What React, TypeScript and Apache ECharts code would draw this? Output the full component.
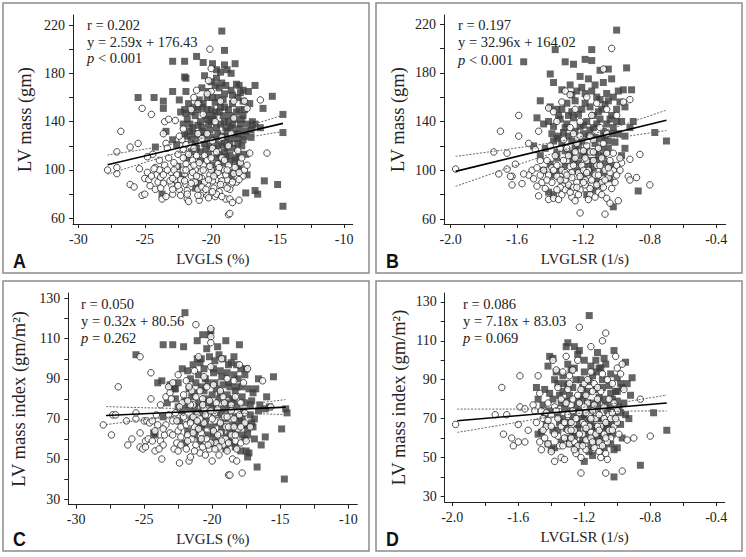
import React, { useEffect, useRef } from "react";
import * as echarts from "echarts";

// ---------- Panel A: LVGLS (%) vs LV mass (gm) ----------
const aSquares: number[][] = [
  [-19.2,215],[-19.0,199],[-22.9,190],[-22.0,190],[-21.1,194],[-20.6,189],[-19.6,183],[-19.0,187],[-18.2,188],[-19.9,188],
  [-20.5,178],[-22.0,177],[-21.9,176],[-18.8,183],[-19.3,181],[-18.5,180],[-19.6,176],[-19.2,172],[-18.1,171],[-17.9,170],
  [-17.6,166],[-17.2,165],[-16.7,170],[-18.5,166],[-19.0,163],[-19.7,170],[-20.0,173],[-19.4,168],
  [-25.5,160],[-24.3,160],[-23.6,157],[-22.9,165],[-22.0,150],[-22.3,148],[-23.4,132],[-23.6,151],[-24.2,119],[-23.7,80],[-22.9,125],[-22.6,121],
  [-15.4,161],[-16.1,151],[-16.3,135],[-14.6,146],[-14.6,131],[-16.5,80],[-17.4,81],[-16.7,83],[-16.0,91],[-15.0,88],[-14.6,70],
  [-17.3,96],[-17.4,113],[-17.0,127],[-17.0,133],[-16.9,140],[-17.5,150],[-17.1,155],[-17.6,157],[-18.0,160],[-16.9,137],[-16.7,138],
  [-18.6,112],[-18.1,110],[-17.9,104],[-18.0,100],[-18.3,98],[-18.5,95],[-19.2,106],[-19.8,98],[-20.9,90],[-21.2,85],[-22.2,96],
  [-22.5,103],[-21.8,110],[-20.2,113],[-19.0,115],[-18.8,118],[-17.7,120],
  [-21.8,142],[-21.6,138],[-21.4,135],[-21.2,145],[-21.0,150],[-20.8,140],[-20.6,132],[-20.4,145],[-20.2,138],[-20.0,150],
  [-19.8,142],[-19.6,135],[-19.4,148],[-19.2,128],[-19.0,140],[-18.8,132],[-18.6,145],[-18.4,137],[-18.2,142],[-18.0,130],
  [-17.8,138],[-17.6,145],[-17.4,132],[-21.5,125],[-21.0,128],[-20.5,122],[-20.0,127],[-19.5,120],[-19.0,123],[-18.5,126],
  [-18.0,122],[-17.5,128],[-21.7,155],[-20.9,158],[-20.3,160],[-19.7,156],[-19.1,158],[-18.4,155],[-17.9,150],[-20.7,152],
  [-19.9,145],[-19.3,138],[-18.7,150],[-22.1,138],[-21.3,130],[-20.1,133],[-19.7,125],[-18.9,135],[-18.3,118],[-17.9,113],
  [-20.4,118],[-21.1,118],[-19.4,113],[-20.8,108],[-18.6,107],[-19.9,104],[-21.5,148],[-20.2,165],[-19.5,160],[-18.9,170],
  [-20.7,168],[-21.9,165],[-22.4,158],
  [-21.9,147],[-21.3,152],[-20.6,155],[-19.9,160],[-19.3,152],[-18.7,140],[-18.1,148],[-17.7,142],[-21.6,132],[-21.0,137],
  [-20.3,142],[-19.7,148],[-19.1,145],[-18.5,135],[-17.9,134],[-17.3,138],[-21.8,128],[-20.7,135],[-20.0,140],[-19.5,130],
  [-18.9,127],[-18.3,130],[-17.6,125],[-21.2,122],[-20.5,128],[-19.8,118],[-19.2,121],[-18.6,122],[-18.0,126],[-20.8,115],
  [-20.1,120],[-19.6,110],[-18.9,111],[-18.2,108],[-21.5,115],[-22.0,130],[-20.3,150],[-19.0,152],[-18.4,162],[-17.8,164]
];
const aCircles: number[][] = [
  [-27.8,100],[-27.1,97],[-27.1,102],[-27.1,115],[-26.8,132],[-26.1,119],[-26.1,88],[-25.8,86],[-25.5,122],[-25.2,151],
  [-25.4,101],[-25.2,79],[-25.0,80],[-25.0,93],[-24.8,98],[-24.6,87],[-24.5,146],[-24.4,113],[-24.2,102],[-24.1,96],
  [-24.0,90],[-24.2,84],[-23.9,100],[-23.8,94],[-23.7,76],[-23.6,89],[-23.5,140],[-23.4,122],[-23.3,118],[-23.2,110],
  [-23.0,98],[-23.0,88],[-22.9,80],[-22.7,92],[-22.6,103],[-22.5,113],[-22.4,84],[-22.3,79],[-22.2,125],[-22.1,134],
  [-22.0,97],[-21.9,88],[-21.8,76],[-21.7,74],[-21.6,102],[-21.5,95],[-21.4,108],[-21.3,118],[-21.2,90],[-21.0,84],
  [-20.9,75],[-20.8,99],[-20.7,93],[-20.6,104],[-20.5,112],[-20.4,80],[-20.3,88],[-20.2,77],[-20.1,96],[-20.0,100],
  [-19.9,118],[-19.8,85],[-19.7,78],[-19.6,92],[-19.5,105],[-19.4,82],[-19.3,95],[-19.2,110],[-19.1,88],[-19.0,100],
  [-18.9,76],[-18.8,92],[-18.7,104],[-18.7,63],[-18.6,64],[-18.6,76],[-18.5,88],[-18.4,73],[-18.3,97],[-18.1,90],
  [-17.9,75],[-17.8,106],[-17.6,95],[-17.5,100],[-17.3,104],[-17.1,114],[-15.8,114],[-16.3,158],
  [-20.1,200],[-20.0,184],[-20.2,174],[-20.0,165],[-20.3,163],[-21.1,166],[-21.3,160],[-21.0,155],[-21.5,150],[-20.6,146],
  [-19.3,157],[-18.3,157],[-17.5,157],[-17.3,151],[-19.7,140],[-18.3,143],[-22.7,141],[-23.2,142],[-22.4,128],[-21.9,121],
  [-21.0,130],[-20.7,126],[-20.3,130],[-19.9,124],[-19.6,115],[-19.2,127],[-18.7,120],[-18.5,130],[-18.0,116],[-17.7,110],
  [-21.7,113],[-22.1,117],[-23.9,108],[-23.6,130],[-24.8,111],[-22.8,106],[-21.9,105],[-21.2,100],[-20.5,90],[-19.5,98],
  [-19.9,91],[-20.9,94],[-21.6,86],[-22.3,92],[-22.8,100],[-23.5,104],[-24.3,101],[-24.7,92],[-23.1,91],[-22.1,100],
  [-21.1,112],[-20.3,108],[-19.0,108],[-18.2,102],[-18.9,96],[-20.6,82],[-21.8,83],[-22.9,84],[-23.4,78],[-20.8,79],
  [-19.6,80],[-18.6,84],[-19.2,91],[-20.1,103],[-21.4,98],[-17.9,98],
  [-22.6,96],[-22.0,91],[-21.5,89],[-21.1,95],[-20.7,86],[-20.2,92],[-19.8,95],[-19.3,88],[-18.8,85],[-18.4,90],
  [-22.9,93],[-23.3,100],[-23.8,85],[-24.5,95],[-21.9,100],[-21.3,104],[-20.6,100],[-20.0,110],[-19.4,102],[-18.8,100],
  [-17.9,92],[-21.8,80],[-21.0,79],[-20.4,84],[-19.9,82],[-19.2,78],[-22.5,87],[-23.6,96],[-22.1,110],[-20.9,106]
];
const aFitX = [-27.8, -14.6];
const aFitY = [104.4, 138.6];
const aBandX = [-27.8, -26, -24, -22, -20.5, -19, -17, -14.6];
const aBandUpper = [112.4, 115.5, 119.1, 123.3, 126.8, 131.0, 137.3, 145.4];
const aBandLower = [96.4, 102.7, 109.5, 115.7, 119.8, 123.4, 127.5, 131.8];

// ---------- Panel B: LVGLSR (1/s) vs LV mass (gm) ----------
const bSquares: number[][] = [
  [-1.00,215],[-1.37,199],[-1.15,199],[-1.56,189],[-1.31,189],[-1.26,187],[-1.19,191],[-1.15,190],[-1.10,182],[-1.05,183],
  [-0.94,184],[-1.40,179],[-1.38,172],[-1.22,177],[-1.17,175],[-1.13,170],[-1.08,172],[-1.03,175],[-0.99,165],[-0.96,166],
  [-0.91,166],[-1.28,170],[-1.33,166],[-1.24,165],[-1.19,163],[-1.12,160],[-1.06,163],[-1.02,160],[-0.98,156],[-0.95,152],
  [-1.46,157],[-1.40,152],[-1.36,150],[-1.30,155],[-1.27,148],[-1.21,150],[-1.16,152],[-1.11,148],[-1.07,154],[-1.03,145],
  [-1.00,150],[-0.97,140],[-1.48,143],[-1.44,138],[-1.41,140],[-1.38,136],[-1.34,142],[-1.30,138],[-1.26,143],[-1.22,136],
  [-1.18,140],[-1.14,135],[-1.10,142],[-1.06,138],[-1.02,135],[-0.99,130],[-0.95,128],[-0.90,140],[-0.92,135],[-0.77,131],
  [-0.70,124],[-1.50,120],[-1.46,112],[-1.43,118],[-1.39,130],[-1.36,126],[-1.33,122],[-1.29,128],[-1.25,118],[-1.21,124],
  [-1.17,128],[-1.13,122],[-1.09,126],[-1.05,118],[-1.01,123],[-0.97,112],[-0.95,118],[-1.40,105],[-1.36,110],[-1.31,104],
  [-1.27,112],[-1.23,106],[-1.19,114],[-1.15,108],[-1.11,112],[-1.07,106],[-1.03,104],[-1.44,100],[-1.38,96],[-1.33,92],
  [-1.29,96],[-1.24,100],[-1.20,94],[-1.16,98],[-1.12,92],[-1.08,98],[-1.04,93],[-1.41,82],[-1.38,80],[-1.29,86],
  [-1.18,80],[-1.14,84],[-0.87,83],[-1.02,70],[-1.10,88],[-1.35,145],[-1.25,157],[-1.15,165],[-1.05,157],[-1.32,131],
  [-1.20,130],[-1.08,132],[-1.13,115],[-1.28,114],[-1.36,115],
  [-1.33,150],[-1.29,145],[-1.23,146],[-1.19,155],[-1.14,145],[-1.09,150],[-1.04,142],[-1.31,135],[-1.25,132],[-1.20,137],
  [-1.16,133],[-1.12,138],[-1.07,128],[-1.03,130],[-1.35,128],[-1.27,124],[-1.23,120],[-1.18,116],[-1.13,127],[-1.09,118],
  [-1.05,124],[-1.31,116],[-1.26,108],[-1.21,112],[-1.17,104],[-1.12,108],[-1.08,112],[-1.34,100],[-1.22,98],[-1.14,102],
  [-1.27,162],[-1.21,168],[-1.10,158],[-1.38,124],[-1.00,140]
];
const bCircles: number[][] = [
  [-1.03,200],[-1.08,183],[-1.97,101],[-1.74,115],[-1.70,132],[-1.59,145],[-1.59,128],[-1.66,114],[-1.71,97],[-1.63,95],
  [-1.63,88],[-1.57,89],[-1.61,105],[-1.53,122],[-1.47,132],[-1.49,117],[-1.46,108],[-1.47,79],[-1.51,100],[-1.53,96],
  [-1.56,97],[-1.66,101],[-1.64,95],[-1.48,87],[-1.45,90],[-1.43,85],[-1.41,76],[-1.38,77],[-1.35,76],[-1.33,80],
  [-1.31,84],[-1.29,88],[-1.27,78],[-1.25,75],[-1.22,65],[-1.07,64],[-1.06,77],[-1.04,73],[-0.99,75],[-0.92,109],
  [-0.86,113],[-0.88,94],[-0.80,88],[-0.97,106],[-0.93,95],[-0.92,92],[-0.92,158],[-0.96,156],[-1.41,151],[-1.38,148],
  [-1.36,140],[-1.31,165],[-1.28,162],[-1.33,156],[-1.26,130],[-1.22,128],[-1.18,120],[-1.16,115],[-1.14,125],[-1.11,118],
  [-1.09,110],[-1.06,114],[-1.04,108],[-1.02,100],[-1.00,104],[-1.40,120],[-1.37,112],[-1.34,118],[-1.30,108],[-1.28,103],
  [-1.25,110],[-1.23,98],[-1.21,104],[-1.19,92],[-1.17,100],[-1.15,88],[-1.13,96],[-1.11,82],[-1.09,90],[-1.07,100],
  [-1.05,94],[-1.03,85],[-1.42,108],[-1.39,102],[-1.36,95],[-1.33,100],[-1.31,92],[-1.27,98],[-1.24,90],[-1.22,84],
  [-1.20,100],[-1.18,108],[-1.16,80],[-1.13,78],[-1.27,94],[-1.34,86],[-1.39,90],[-1.44,100],[-1.50,93],[-1.48,102],
  [-1.20,116],[-1.24,122],[-1.30,118],[-1.12,104],[-1.08,122],[-1.02,114],[-1.00,96],[-0.98,110],[-1.06,130],[-1.10,135],
  [-1.16,128],[-1.22,140],[-1.28,135],[-1.18,160],[-1.12,155],[-1.06,150],[-1.00,145],[-1.15,145],[-1.25,150],[-1.32,125],
  [-1.36,104],[-1.41,96],[-1.14,108],[-1.19,88],[-1.26,86],[-1.09,80],[-1.31,98],
  [-1.26,104],[-1.22,95],[-1.18,98],[-1.15,92],[-1.11,96],[-1.07,92],[-1.04,98],[-1.30,96],[-1.34,92],[-1.38,100],
  [-1.24,86],[-1.20,90],[-1.16,85],[-1.12,88],[-1.08,86],[-1.36,84],[-1.28,82],[-1.32,108],[-1.25,115],[-1.19,110],
  [-1.14,115],[-1.10,104],[-1.05,102],[-1.42,92],[-1.46,96],[-1.23,80],[-1.17,76],[-1.01,90],[-0.98,100],[-1.29,112]
];
const bFitX = [-1.97, -0.70];
const bFitY = [99.1, 141.0];
const bBandX = [-1.97, -1.8, -1.6, -1.4, -1.2, -1.0, -0.85, -0.70];
const bBandUpper = [111.4, 114.5, 118.3, 122.5, 128.0, 135.7, 142.4, 149.4];
const bBandLower = [86.8, 94.9, 104.3, 113.2, 121.0, 126.4, 129.6, 132.6];

// ---------- Panel C: LVGLS (%) vs LV mass index ----------
const cSquares: number[][] = [
  [-22.0,123],[-20.7,112],[-21.1,109],[-20.1,114],[-20.2,112],[-19.0,109],[-18.0,107],[-23.6,107],[-22.9,107],[-22.1,106],
  [-25.6,102],[-20.4,105],[-19.5,102],[-19.8,99],[-20.2,101],[-19.2,100],[-18.8,97],[-18.2,97],[-17.9,95],[-17.6,92],
  [-17.5,95],[-16.6,90],[-15.5,91],[-22.2,95],[-21.8,94],[-21.4,97],[-21.1,100],[-20.9,98],[-20.6,95],[-19.9,93],
  [-19.4,94],[-18.9,93],[-18.4,92],[-18.1,90],[-16.0,81],[-24.0,88],[-23.7,89],[-23.1,87],[-22.5,88],[-22.8,85],
  [-21.7,85],[-21.2,88],[-20.8,86],[-20.3,88],[-19.7,85],[-19.2,87],[-18.7,86],[-18.3,84],[-17.8,86],[-17.3,85],
  [-17.0,83],[-16.8,85],[-22.7,80],[-22.0,79],[-21.5,81],[-21.0,78],[-20.5,80],[-20.0,77],[-19.5,80],[-19.0,78],
  [-18.5,80],[-17.6,78],[-17.2,77],[-16.5,77],[-16.1,75],[-15.8,76],[-14.6,75],[-14.5,73],[-22.2,74],[-21.7,75],
  [-21.2,73],[-20.7,76],[-20.2,74],[-19.7,73],[-19.2,75],[-18.7,74],[-18.2,76],[-17.7,74],[-17.2,72],[-16.9,70],
  [-16.6,74],[-21.5,70],[-21.0,68],[-20.5,70],[-20.0,66],[-19.5,68],[-19.0,70],[-18.5,67],[-18.0,69],[-17.5,67],
  [-17.0,66],[-21.8,64],[-21.3,62],[-20.8,65],[-20.3,62],[-19.8,60],[-19.3,63],[-18.8,61],[-18.3,64],[-17.8,62],
  [-17.4,65],[-16.9,60],[-16.1,61],[-16.4,57],[-17.4,62],[-17.5,54],[-17.3,53],[-17.4,51],[-17.9,54],[-18.3,56],
  [-18.6,58],[-19.0,55],[-19.5,58],[-20.0,57],[-20.9,59],[-22.0,58],[-16.7,46],[-14.7,40],[-14.9,65],[-24.2,62],
  [-24.3,63],[-23.6,71],[-22.7,85],[-23.3,78],[-22.4,69],[-19.8,88],[-18.6,98],[-17.1,68],
  [-21.6,90],[-21.0,92],[-20.5,90],[-19.9,95],[-19.3,91],[-18.8,88],[-18.2,86],[-21.3,83],[-20.6,84],[-20.0,82],
  [-19.4,83],[-18.9,82],[-18.4,79],[-17.8,81],[-21.9,77],[-21.3,76],[-20.8,73],[-20.3,78],[-19.8,75],[-19.3,72],
  [-18.8,77],[-18.3,71],[-17.8,70],[-21.1,65],[-20.5,67],[-19.9,63],[-19.3,66],[-18.7,64],[-18.1,66],[-17.6,60],
  [-22.5,76],[-20.8,100],[-19.6,106],[-18.4,101],[-17.1,79]
];
const cCircles: number[][] = [
  [-21.2,117],[-20.1,115],[-20.1,111],[-20.1,108],[-25.3,101],[-26.9,86],[-28.0,67],[-27.4,62],[-27.3,72],[-27.1,72],
  [-26.2,57],[-25.9,60],[-26.3,69],[-25.6,70],[-25.6,73],[-25.3,56],[-25.1,55],[-24.9,59],[-24.7,60],[-25.0,69],
  [-24.8,69],[-24.6,68],[-24.4,69],[-24.5,80],[-24.5,93],[-24.1,72],[-24.2,54],[-24.0,67],[-23.8,59],[-23.7,50],
  [-23.6,57],[-23.5,62],[-23.4,81],[-23.2,86],[-23.1,83],[-22.9,88],[-22.8,55],[-22.6,58],[-22.5,64],[-22.4,48],
  [-22.3,66],[-22.2,78],[-22.0,70],[-21.9,55],[-21.8,62],[-21.7,49],[-21.6,51],[-21.5,84],[-21.4,77],[-21.3,66],
  [-21.2,57],[-21.1,72],[-21.0,101],[-20.9,53],[-20.8,63],[-20.7,80],[-20.6,68],[-20.5,52],[-20.4,60],[-20.3,72],
  [-20.2,55],[-20.1,96],[-20.0,49],[-19.9,64],[-19.8,73],[-19.7,58],[-19.6,69],[-19.5,52],[-19.4,63],[-19.3,100],
  [-19.2,57],[-19.1,71],[-19.0,66],[-18.9,54],[-18.8,42],[-18.7,42],[-18.6,62],[-18.5,50],[-18.4,70],[-18.3,59],
  [-18.2,49],[-18.1,65],[-18.0,97],[-17.9,58],[-17.8,43],[-17.7,88],[-17.6,68],[-17.4,95],[-17.2,66],[-16.3,89],
  [-15.7,76],[-20.6,91],[-21.3,94],[-21.9,89],[-22.5,92],[-23.0,80],[-21.7,86],[-20.9,84],[-19.9,87],[-18.9,90],
  [-18.4,89],[-22.7,73],[-22.3,61],[-21.5,60],[-21.0,65],[-20.4,75],[-19.7,78],[-19.2,81],[-18.6,77],[-18.0,72],
  [-17.5,59],[-20.1,58],[-19.5,56],[-20.7,56],[-21.3,54],[-23.1,63],[-23.4,67],[-22.9,69],[-21.9,67],[-20.9,70],
  [-19.6,62],[-18.8,66],[-18.2,55],[-17.9,78],[-20.2,79],[-21.6,77],[-22.1,82],[-23.8,77],[-24.2,64],[-25.3,63],
  [-24.9,56],[-23.9,55],[-20.4,86],[-19.4,84],[-18.6,74],[-19.0,60],[-20.6,75],[-21.4,71],[-22.5,54],[-17.6,73],
  [-18.3,81],[-19.8,69],
  [-22.9,62],[-22.3,57],[-21.8,59],[-21.4,63],[-20.8,60],[-20.3,57],[-19.8,55],[-19.3,59],[-18.8,58],[-18.3,62],
  [-23.2,72],[-22.6,69],[-22.1,71],[-21.6,68],[-21.1,69],[-20.5,72],[-20.0,70],[-19.4,68],[-18.9,71],[-18.4,66],
  [-22.4,76],[-21.8,79],[-21.2,81],[-20.7,77],[-20.1,74],[-19.6,75],[-19.1,78],[-23.6,65],[-24.4,59],[-17.9,66]
];
const cFitX = [-27.8, -14.6];
const cFitY = [71.66, 75.89];
const cBandX = [-27.8, -26, -24, -22, -20.5, -19, -17, -14.6];
const cBandUpper = [76.16, 75.77, 75.41, 75.25, 75.5, 76.21, 77.65, 79.64];
const cBandLower = [67.16, 68.71, 70.35, 71.79, 72.5, 72.75, 72.59, 72.14];

// ---------- Panel D: LVGLSR (1/s) vs LV mass index ----------
const dSquares: number[][] = [
  [-1.17,123],[-1.30,109],[-1.31,107],[-1.26,107],[-1.23,105],[-1.12,104],[-0.95,99],[-1.41,102],[-1.39,101],[-1.42,97],
  [-1.49,86],[-0.91,91],[-0.78,73],[-0.70,64],[-0.86,46],[-1.02,40],[-1.13,100],[-1.10,96],[-1.07,98],[-1.04,93],
  [-1.00,91],[-1.16,97],[-1.20,94],[-1.28,95],[-1.33,92],[-1.38,90],[-1.44,85],[-1.41,83],[-1.36,88],[-1.30,87],
  [-1.25,90],[-1.21,86],[-1.17,89],[-1.13,85],[-1.09,90],[-1.05,87],[-1.01,84],[-0.97,86],[-0.94,88],[-1.39,80],
  [-1.34,78],[-1.29,82],[-1.24,79],[-1.20,82],[-1.15,78],[-1.11,81],[-1.07,77],[-1.03,80],[-0.99,76],[-0.96,78],
  [-0.92,82],[-1.45,77],[-1.41,74],[-1.36,72],[-1.32,75],[-1.27,71],[-1.23,74],[-1.19,70],[-1.14,73],[-1.10,70],
  [-1.06,74],[-1.02,71],[-0.98,73],[-0.95,72],[-0.93,70],[-1.48,62],[-1.46,63],[-1.43,67],[-1.39,64],[-1.35,68],
  [-1.31,65],[-1.27,63],[-1.23,67],[-1.19,64],[-1.15,66],[-1.11,62],[-1.07,65],[-1.03,62],[-0.98,67],[-1.42,57],
  [-1.38,55],[-1.34,58],[-1.29,57],[-1.25,55],[-1.21,59],[-1.16,56],[-1.12,58],[-1.08,55],[-1.04,57],[-1.00,55],
  [-1.40,54],[-1.17,53],[-1.15,51],[-1.02,54],[-1.20,48],[-0.97,60],[-1.33,84],[-1.26,96],[-1.15,92],[-1.08,101],
  [-1.02,105],[-0.98,88],[-1.44,72],[-1.36,64],[-1.28,74],[-1.22,70],[-1.14,60],[-1.06,68],[-1.30,98],[-1.20,100],
  [-1.12,75],[-1.18,78],[-1.48,80],
  [-1.32,88],[-1.27,86],[-1.22,90],[-1.18,84],[-1.13,94],[-1.09,86],[-1.04,83],[-1.35,82],[-1.30,79],[-1.25,76],
  [-1.21,80],[-1.16,75],[-1.12,78],[-1.08,80],[-1.04,76],[-1.00,79],[-1.33,70],[-1.29,68],[-1.24,65],[-1.20,72],
  [-1.16,68],[-1.12,70],[-1.08,66],[-1.04,67],[-1.30,60],[-1.26,61],[-1.22,57],[-1.18,61],[-1.13,64],[-1.10,60],
  [-1.06,62],[-1.37,94],[-1.24,103],[-1.11,96],[-1.00,84]
];
const dCircles: number[][] = [
  [-1.23,117],[-1.07,114],[-1.16,107],[-1.09,110],[-1.01,102],[-1.98,67],[-1.74,72],[-1.70,86],[-1.69,62],[-1.67,72],
  [-1.64,60],[-1.63,56],[-1.60,67],[-1.60,58],[-1.59,92],[-1.59,76],[-1.56,58],[-1.56,75],[-1.54,64],[-1.51,77],
  [-1.50,74],[-1.49,68],[-1.48,92],[-1.47,83],[-1.47,58],[-1.46,54],[-1.46,74],[-1.45,70],[-1.44,60],[-1.43,66],
  [-1.42,57],[-1.40,53],[-1.39,100],[-1.38,76],[-1.38,48],[-1.37,95],[-1.36,61],[-1.34,50],[-1.33,94],[-1.32,49],
  [-1.31,102],[-1.30,85],[-1.29,57],[-1.28,77],[-1.27,95],[-1.26,64],[-1.25,52],[-1.24,100],[-1.23,73],[-1.22,50],
  [-1.22,42],[-1.21,68],[-1.20,88],[-1.19,59],[-1.18,78],[-1.17,72],[-1.16,63],[-1.15,84],[-1.14,55],[-1.13,70],
  [-1.12,80],[-1.11,58],[-1.10,66],[-1.09,93],[-1.08,62],[-1.07,52],[-1.07,42],[-1.06,49],[-1.05,72],[-1.04,60],
  [-1.03,88],[-1.02,66],[-1.00,96],[-0.99,62],[-0.98,93],[-0.97,43],[-0.96,85],[-0.94,59],[-0.90,60],[-0.86,80],
  [-0.80,61],[-0.97,98],[-1.30,72],[-1.34,66],[-1.28,68],[-1.24,82],[-1.20,76],[-1.16,70],[-1.12,66],[-1.08,76],
  [-1.04,70],[-1.00,74],[-1.26,58],[-1.21,62],[-1.17,66],[-1.13,62],[-1.09,56],[-1.05,64],[-1.32,60],[-1.36,70],
  [-1.40,66],[-1.42,78],[-1.30,64],[-1.25,70],[-1.19,73],[-1.14,77],[-1.10,84],[-1.05,80],[-1.00,68],[-1.27,80],
  [-1.22,85],[-1.18,90],[-1.14,88],[-1.34,80],[-1.29,88],[-1.38,62],[-1.24,56],[-1.19,54],[-1.11,53],[-1.06,58],
  [-1.16,60],[-1.02,78],[-1.08,70],[-1.13,73],[-1.35,56],[-1.43,73],[-1.28,60],[-1.20,67],
  [-1.31,78],[-1.27,74],[-1.23,78],[-1.19,82],[-1.15,74],[-1.11,72],[-1.07,68],[-1.03,73],[-1.32,68],[-1.28,64],
  [-1.23,62],[-1.19,65],[-1.15,58],[-1.11,64],[-1.07,60],[-1.03,64],[-1.37,74],[-1.33,56],[-1.26,54],[-1.21,56],
  [-1.10,50],[-1.40,72],[-1.45,64],[-1.29,92],[-1.16,94],[-1.12,86],[-1.06,90],[-1.01,70],[-1.36,86],[-1.42,69]
];
const dFitX = [-1.97, -0.70];
const dFitY = [68.9, 78.0];
const dBandX = [-1.97, -1.8, -1.6, -1.4, -1.2, -1.0, -0.85, -0.70];
const dBandUpper = [74.9, 74.9, 74.9, 75.1, 75.9, 78.0, 80.0, 82.1];
const dBandLower = [62.9, 65.3, 68.2, 70.9, 72.9, 73.7, 73.9, 73.9];

// ---------- Tick values ----------
const glsTicks = [-30, -27.5, -25, -22.5, -20, -17.5, -15, -12.5, -10];
const glsLabels = [-30, -25, -20, -15, -10];
const glsrTicks = [-2.0, -1.8, -1.6, -1.4, -1.2, -1.0, -0.8, -0.6, -0.4];
const glsrLabels = [-2.0, -1.6, -1.2, -0.8, -0.4];
const massTicks = [60, 80, 100, 120, 140, 160, 180, 200, 220];
const massLabels = [60, 100, 140, 180, 220];
const indexTicks = [30, 40, 50, 60, 70, 80, 90, 100, 110, 120, 130];
const indexLabels = [30, 50, 70, 90, 110, 130];

const statsA = ["r = 0.202", "y = 2.59x + 176.43", "{i|p} < 0.001"];
const statsB = ["r = 0.197", "y = 32.96x + 164.02", "{i|p} < 0.001"];
const statsC = ["r = 0.050", "y = 0.32x + 80.56", "{i|p} = 0.262"];
const statsD = ["r = 0.086", "y = 7.18x + 83.03", "{i|p} = 0.069"];

const SERIF = "Liberation Serif";
const zip = (xs: number[], ys: number[]) => xs.map((x, i) => [x, ys[i]]);

export default function App() {
  const ref = useRef<HTMLDivElement>(null);
  useEffect(() => {
    if (!ref.current) return;
    const chart = echarts.init(ref.current, null, { renderer: "svg" });

    const panels = [
      { grid: { left: 73, top: 15, width: 279.7, height: 209 }, xr: [-30.4, -9.35], yr: [55.3, 228.3],
        xt: glsTicks, xl: glsLabels, yt: massTicks, yl: massLabels, xdec: 0,
        xname: "LVGLS (%)", yname: "LV mass (gm)", yGap: 38.5,
        sq: aSquares, ci: aCircles, fx: aFitX, fy: aFitY, bx: aBandX, bu: aBandUpper, bl: aBandLower },
      { grid: { left: 444, top: 15, width: 281.7, height: 209 }, xr: [-2.04, -0.343], yr: [55.9, 227.4],
        xt: glsrTicks, xl: glsrLabels, yt: massTicks, yl: massLabels, xdec: 1,
        xname: "LVGLSR (1/s)", yname: "LV mass (gm)", yGap: 36.5,
        sq: bSquares, ci: bCircles, fx: bFitX, fy: bFitY, bx: bBandX, bu: bBandUpper, bl: bBandLower },
      { grid: { left: 68.3, top: 293, width: 289, height: 211.7 }, xr: [-30.57, -9.34], yr: [27.2, 132.8],
        xt: glsTicks, xl: glsLabels, yt: indexTicks, yl: indexLabels, xdec: 0,
        xname: "LVGLS (%)", yname: "LV mass index (gm/m²)", yGap: 40,
        sq: cSquares, ci: cCircles, fx: cFitX, fy: cFitY, bx: cBandX, bu: cBandUpper, bl: cBandLower },
      { grid: { left: 444.7, top: 293, width: 280, height: 209 }, xr: [-2.046, -0.349], yr: [27.1, 134.6],
        xt: glsrTicks, xl: glsrLabels, yt: indexTicks, yl: indexLabels, xdec: 1,
        xname: "LVGLSR (1/s)", yname: "LV mass index (gm/m²)", yGap: 36,
        sq: dSquares, ci: dCircles, fx: dFitX, fy: dFitY, bx: dBandX, bu: dBandUpper, bl: dBandLower },
    ];

    const axisLine = { lineStyle: { color: "#222", width: 1 } };
    const grids: any[] = [];
    const xAxes: any[] = [];
    const yAxes: any[] = [];
    const series: any[] = [];
    panels.forEach((p, i) => {
      grids.push({ ...p.grid, containLabel: false });
      xAxes.push({
        type: "value", gridIndex: i, min: p.xr[0], max: p.xr[1],
        axisLine: { show: true, onZero: false, ...axisLine },
        axisTick: { show: true, length: 4, inside: false, customValues: p.xt, lineStyle: { color: "#222" } },
        axisLabel: { customValues: p.xl, margin: 8, color: "#222", fontFamily: SERIF, fontSize: 14,
          formatter: (v: number) => v.toFixed(p.xdec) },
        splitLine: { show: false },
        name: p.xname, nameLocation: "middle", nameGap: 27,
        nameTextStyle: { fontFamily: SERIF, fontSize: 15, color: "#222" },
      });
      yAxes.push({
        type: "value", gridIndex: i, min: p.yr[0], max: p.yr[1],
        axisLine: { show: true, onZero: false, ...axisLine },
        axisTick: { show: true, length: 4, inside: false, customValues: p.yt, lineStyle: { color: "#222" } },
        axisLabel: { customValues: p.yl, margin: 8, color: "#222", fontFamily: SERIF, fontSize: 14 },
        splitLine: { show: false },
        name: p.yname, nameLocation: "middle", nameGap: p.yGap,
        nameTextStyle: { fontFamily: SERIF, fontSize: 18.5, color: "#222" },
      });
      series.push({
        type: "scatter", xAxisIndex: i, yAxisIndex: i, data: p.sq, symbol: "rect", symbolSize: 7,
        itemStyle: { color: "#3f3f3f" }, silent: true,
      });
      series.push({
        type: "scatter", xAxisIndex: i, yAxisIndex: i, data: p.ci, symbol: "circle", symbolSize: 6.5,
        itemStyle: { color: "#ffffff", borderColor: "#222", borderWidth: 1 }, silent: true,
      });
      series.push({
        type: "line", xAxisIndex: i, yAxisIndex: i, data: zip(p.bx, p.bu), showSymbol: false, smooth: true,
        lineStyle: { color: "#666", width: 1, type: [2, 1.5] }, silent: true, z: 5,
      });
      series.push({
        type: "line", xAxisIndex: i, yAxisIndex: i, data: zip(p.bx, p.bl), showSymbol: false, smooth: true,
        lineStyle: { color: "#666", width: 1, type: [2, 1.5] }, silent: true, z: 5,
      });
      series.push({
        type: "line", xAxisIndex: i, yAxisIndex: i, data: zip(p.fx, p.fy), showSymbol: false,
        lineStyle: { color: "#000", width: 1.6 }, silent: true, z: 6,
      });
    });

    const borders = [
      [3, 3], [376, 3], [3, 281], [376, 281],
    ].map(([x, y]) => ({
      type: "rect", shape: { x, y, width: 366, height: 270 },
      style: { fill: "none", stroke: "#8c8c8c", lineWidth: 1.5 }, silent: true,
    }));

    const letters = [
      ["A", 13, 260], ["B", 386, 260], ["C", 13, 538], ["D", 386, 538],
    ].map(([t, x, y]) => ({
      type: "text", x, y, scaleX: 0.85, silent: true,
      style: { text: t, fill: "#111", fontFamily: "Liberation Sans", fontWeight: "bold", fontSize: 21,
        verticalAlign: "middle", align: "left" },
    }));

    const statBlocks: any[] = [];
    const statPos: [string[], number, number[]][] = [
      [statsA, 87, [25, 41.7, 58]],
      [statsB, 458, [25, 42, 59.5]],
      [statsC, 81, [304, 320.7, 338]],
      [statsD, 463, [303.5, 321, 338]],
    ];
    statPos.forEach(([lines, x, ys]) => {
      lines.forEach((t, k) => {
        statBlocks.push({
          type: "text", x, y: ys[k], silent: true, z: 10,
          style: {
            text: t, fill: "#222", fontFamily: SERIF, fontSize: 14.5,
            verticalAlign: "middle", align: "left",
            rich: { i: { fontStyle: "italic", fontFamily: SERIF, fontSize: 14.5, fill: "#222" } },
          },
        });
      });
    });

    chart.setOption({
      animation: false,
      backgroundColor: "#ffffff",
      grid: grids,
      xAxis: xAxes,
      yAxis: yAxes,
      series,
      graphic: [...borders, ...letters, ...statBlocks],
    });
    return () => chart.dispose();
  }, []);

  return (
    <div
      ref={ref}
      style={{ position: "fixed", left: 0, top: 0, width: 746, height: 557, background: "#fff" }}
    />
  );
}
